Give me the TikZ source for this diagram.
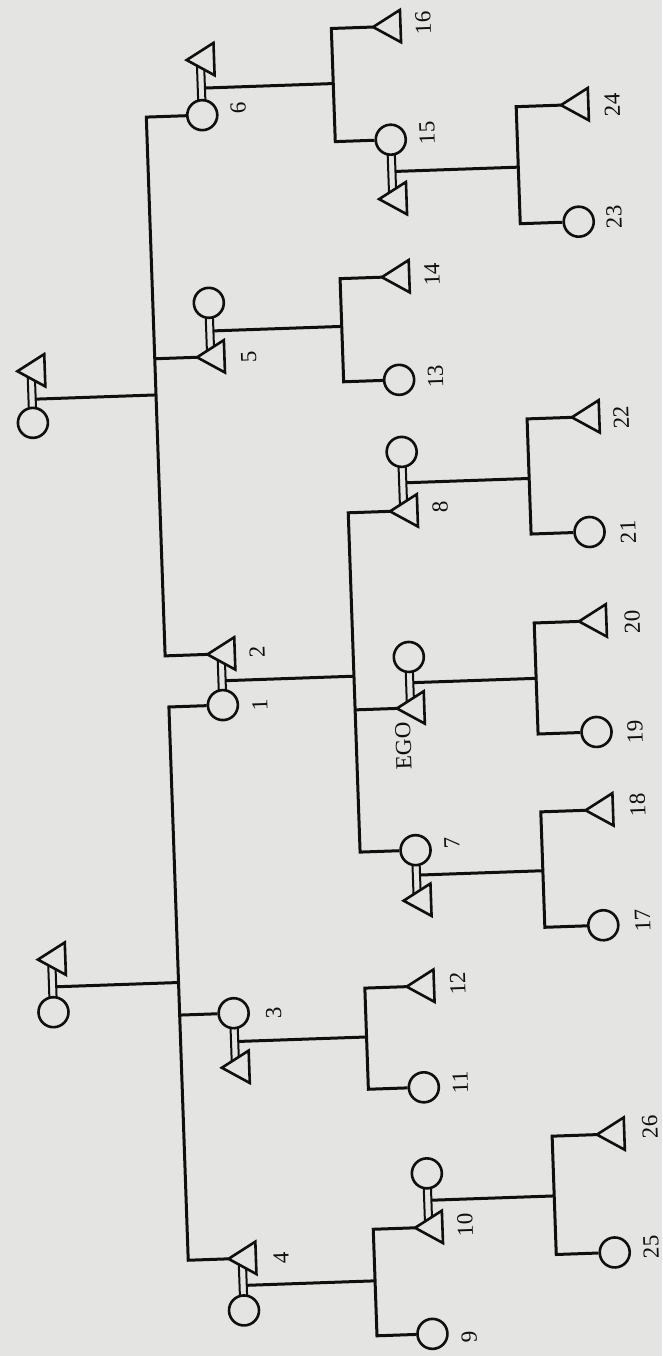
\documentclass[tikz,border=0pt]{standalone}
\usepackage{fontspec}
\setmainfont{Liberation Serif}
\pgfdeclarelayer{paperlayer}
\pgfdeclarelayer{linelayer}
\pgfsetlayers{paperlayer,linelayer,main}
\definecolor{paper}{RGB}{228,228,226}
\definecolor{ink}{RGB}{15,15,15}
\tikzset{
  ln/.style={draw=ink, line width=3pt, line join=miter},
  marr/.style={draw=ink, line width=2pt},
  fem/.style={circle, draw=ink, line width=2.6pt, fill=paper, minimum size=30pt, inner sep=0pt},
  mal/.style={rectangle, inner sep=0pt, minimum width=27pt, minimum height=32pt},
  triline/.style={draw=ink, line width=2.6pt, fill=paper, line join=miter},
  lab/.style={rotate=90, font=\fontsize{23}{23}\selectfont, text=ink, inner sep=0pt},
}
\begin{document}
\begin{tikzpicture}[x=1pt, y=-1pt]
\begin{pgfonlayer}{paperlayer}
\fill[paper] (0,0) rectangle (662,1356);
\end{pgfonlayer}
\useasboundingbox (0,0) rectangle (662,1356);
\begin{scope}[rotate around={2:(331,678)}, transform shape]
% generation 0
\node[mal] (tA) at (42,360.5) {};
\node[fem] (cA) at (42,412.6) {};
\node[mal] (tB) at (42,949.2) {};
\node[fem] (cB) at (42,1002.3) {};
% generation 1
\node[mal] (t6s) at (222,55.4) {};
\node[fem] (c6) at (222,111) {};
\node[fem] (c5s) at (222,298.8) {};
\node[mal] (t5) at (222,352.8) {};
\node[mal] (t2) at (222,650.1) {};
\node[fem] (c1) at (222,701.3) {};
\node[fem] (c3) at (222,1009.6) {};
\node[mal] (t3s) at (222,1063.7) {};
\node[mal] (t4) at (222,1254.9) {};
\node[fem] (c4s) at (222,1307) {};
% generation 2
\node[mal] (t16) at (409.5,28.9) {};
\node[fem] (c15) at (409.5,142.1) {};
\node[mal] (t15s) at (409.5,201.1) {};
\node[mal] (t14) at (409.5,279.2) {};
\node[fem] (c13) at (409.5,382.4) {};
\node[fem] (c8s) at (409.5,454.5) {};
\node[mal] (t8) at (409.5,513.5) {};
\node[fem] (cEs) at (409.5,659.7) {};
\node[mal] (tE) at (409.5,710.7) {};
\node[fem] (c7) at (409.5,853) {};
\node[mal] (t7s) at (409.5,903.1) {};
\node[mal] (t12) at (409.5,989.1) {};
\node[fem] (c11) at (409.5,1090.3) {};
\node[fem] (c10s) at (409.5,1176.4) {};
\node[mal] (t10) at (409.5,1230.4) {};
\node[fem] (c9) at (409.5,1337) {};
% generation 3
\node[mal] (t24) at (594.5,113.5) {};
\node[fem] (c23) at (594.5,230.6) {};
\node[mal] (t22) at (594.5,425.9) {};
\node[fem] (c21) at (594.5,541.1) {};
\node[mal] (t20) at (594.5,630.1) {};
\node[fem] (c19) at (594.5,741.2) {};
\node[mal] (t18) at (594.5,819.1) {};
\node[fem] (c17) at (594.5,934.6) {};
\node[mal] (t26) at (594.5,1143.6) {};
\node[fem] (c25) at (594.5,1262) {};
% triangles (males)
\foreach \n in {tA,tB,t6s,t5,t2,t3s,t4,t16,t15s,t14,t8,tE,t7s,t12,t10,t24,t22,t20,t18,t26}
  \draw[triline] (\n.west) -- (\n.north east) -- (\n.south east) -- cycle;
% coordinates: couple midpoints and bar corners
\coordinate (mA) at (45.5,389);   \coordinate (dA) at (166,389);
\coordinate (mB) at (45.5,977);   \coordinate (dB) at (168,977);
\coordinate (k6) at (166,111);    \coordinate (k5) at (166,352.8);  \coordinate (k2) at (166,650.1);
\coordinate (k1) at (168,701.3);  \coordinate (k3) at (168,1009.6); \coordinate (k4) at (168,1254.9);
\coordinate (m6) at (225.5,84);   \coordinate (d6) at (354,84);
\coordinate (k16) at (354,28.9);  \coordinate (k15) at (354,142.1);
\coordinate (m5) at (225.5,327);  \coordinate (d5) at (354,327);
\coordinate (k14) at (354,279.2); \coordinate (k13) at (354,382.4);
\coordinate (m12) at (225.5,677); \coordinate (d12) at (354,677);
\coordinate (k8) at (354,513.5);  \coordinate (kE) at (354,710.7);  \coordinate (k7) at (354,853);
\coordinate (m3) at (225.5,1038); \coordinate (d3) at (354,1038);
\coordinate (k12) at (354,989.1); \coordinate (k11) at (354,1090.3);
\coordinate (m4) at (225.5,1282); \coordinate (d4) at (354,1282);
\coordinate (k10) at (354,1230.4); \coordinate (k9) at (354,1337);
\coordinate (m15) at (413,174);   \coordinate (d15) at (536,174);
\coordinate (k24) at (536,113.5); \coordinate (k23) at (536,230.6);
\coordinate (m8) at (413,485.5);  \coordinate (d8) at (536,485.5);
\coordinate (k22) at (536,425.9); \coordinate (k21) at (536,541.1);
\coordinate (mE) at (413,685.5);  \coordinate (dE) at (536,685.5);
\coordinate (k20) at (536,630.1); \coordinate (k19) at (536,741.2);
\coordinate (m7) at (413,878);    \coordinate (d7) at (536,878);
\coordinate (k18) at (536,819.1); \coordinate (k17) at (536,934.6);
\coordinate (m10) at (413,1203.4); \coordinate (d10) at (536,1203.4);
\coordinate (k26) at (536,1143.6); \coordinate (k25) at (536,1262);
\begin{pgfonlayer}{linelayer}
% marriages
\foreach \a/\b in {tA/cA,tB/cB,t6s/c6,c5s/t5,t2/c1,c3/t3s,t4/c4s,c15/t15s,c8s/t8,cEs/tE,c7/t7s,c10s/t10}{
  \draw[marr] ([xshift=-3.6pt]\a.center) -- ([xshift=-3.6pt]\b.center);
  \draw[marr] ([xshift=3.6pt]\a.center) -- ([xshift=3.6pt]\b.center);
}
% generation 0 -> 1
\draw[ln] (mA) -- (dA);
\draw[ln] (c6.west) -- (k6) -- (k2) -- (t2.west);
\draw[ln] (t5.west) -- (k5);
\draw[ln] (mB) -- (dB);
\draw[ln] (c1.west) -- (k1) -- (k4) -- (t4.west);
\draw[ln] (c3.west) -- (k3);
% generation 1 -> 2
\draw[ln] (m6) -- (d6);
\draw[ln] (t16.west) -- (k16) -- (k15) -- (c15.west);
\draw[ln] (m5) -- (d5);
\draw[ln] (t14.west) -- (k14) -- (k13) -- (c13.west);
\draw[ln] (m12) -- (d12);
\draw[ln] (t8.west) -- (k8) -- (k7) -- (c7.west);
\draw[ln] (tE.west) -- (kE);
\draw[ln] (m3) -- (d3);
\draw[ln] (t12.west) -- (k12) -- (k11) -- (c11.west);
\draw[ln] (m4) -- (d4);
\draw[ln] (t10.west) -- (k10) -- (k9) -- (c9.west);
% generation 2 -> 3
\draw[ln] (m15) -- (d15);
\draw[ln] (t24.west) -- (k24) -- (k23) -- (c23.west);
\draw[ln] (m8) -- (d8);
\draw[ln] (t22.west) -- (k22) -- (k21) -- (c21.west);
\draw[ln] (mE) -- (dE);
\draw[ln] (t20.west) -- (k20) -- (k19) -- (c19.west);
\draw[ln] (m7) -- (d7);
\draw[ln] (t18.west) -- (k18) -- (k17) -- (c17.west);
\draw[ln] (m10) -- (d10);
\draw[ln] (t26.west) -- (k26) -- (k25) -- (c25.west);
\end{pgfonlayer}
% labels
\node[lab] (l6) at (258,105) {6};
\node[lab] (l5) at (260,354) {5};
\node[lab] (l2) at (258,649.5) {2};
\node[lab] (l1) at (259,702.5) {1};
\node[lab] (l3) at (262,1011) {3};
\node[lab] (l4) at (261,1256) {4};
\node[lab] (l16) at (446,26.5) {16};
\node[lab] (l15) at (446,136.5) {15};
\node[lab] (l14) at (446,278.5) {14};
\node[lab] (l13) at (446,380.5) {13};
\node[lab] (l8) at (446,511) {8};
\node[lab] (l7) at (446,847) {7};
\node[lab] (l12) at (447,987.5) {12};
\node[lab] (l11) at (446,1086.5) {11};
\node[lab] (l10) at (446,1229.5) {10};
\node[lab] (l9) at (446,1341.5) {9};
\node[lab] (lE) at (401,748.5) {EGO};
\node[lab] (l24) at (632,115) {24};
\node[lab] (l23) at (630,227) {23};
\node[lab] (l22) at (630,428) {22};
\node[lab] (l21) at (633,542.5) {21};
\node[lab] (l20) at (634,632.5) {20};
\node[lab] (l19) at (633,742.5) {19};
\node[lab] (l18) at (633,815.5) {18};
\node[lab] (l17) at (634,931) {17};
\node[lab] (l26) at (634,1138) {26};
\node[lab] (l25) at (631,1258) {25};
\end{scope}
\end{tikzpicture}
\end{document}
